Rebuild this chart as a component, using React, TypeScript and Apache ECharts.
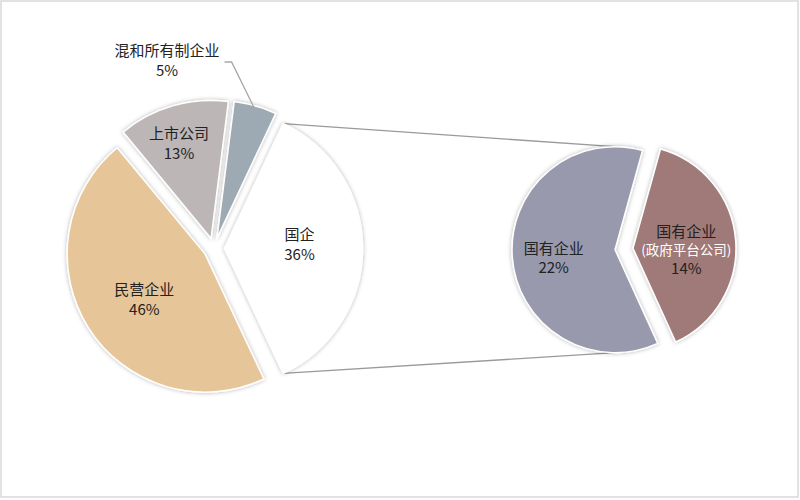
import React, { useEffect, useRef } from "react";
import * as echarts from "echarts";

const mainNames = ["国企", "民营企业", "上市公司", "混和所有制企业"];
const mainValues = [36, 46, 13, 5];
const mainColors = ["#FFFFFF", "#E6C598", "#BCB6B6", "#9DAAB3"];
const subNames = ["国有企业\n(政府平台公司)", "国有企业"];
const subValues = [14, 22];
const subColors = ["#A07A78", "#9899AD"];

const L = { cx: 214, cy: 248.5, r: 138, off: 10.5 };
const R = { cx: 624, cy: 249, r: 103, off: 9, start: 74.5 };
const FONT = "'Noto Sans CJK SC', 'Microsoft YaHei', sans-serif";

// label shifts (dx, dy) from the default inside position
const mainShifts: number[][] = [[3, -5], [0, 6], [-12, -27], [-70, -110]];
const subShifts: number[][] = [[-1, 5], [-7, 3]];

const deg = Math.PI / 180;

export default function App() {
  const ref = useRef<HTMLDivElement>(null);
  useEffect(() => {
    if (!ref.current) return;
    const chart = echarts.init(ref.current, undefined, { renderer: "svg" });
    const total = mainValues.reduce((a, b) => a + b, 0);
    const half = (mainValues[0] / total) * 180;
    // 国企 slice corners (exploded along 0°)
    const gx = L.cx + L.off;
    const topC = [gx + L.r * Math.cos(half * deg), L.cy - L.r * Math.sin(half * deg)];
    const botC = [gx + L.r * Math.cos(half * deg), L.cy + L.r * Math.sin(half * deg)];
    // right pie: 国有企业 slice centre
    const subTotal = subValues.reduce((a, b) => a + b, 0);
    const s0 = (subValues[0] / subTotal) * 360;
    const mid1 = R.start - s0 - ((subValues[1] / subTotal) * 360) / 2;
    const rx = R.cx + R.off * Math.cos(mid1 * deg);
    const ry = R.cy - R.off * Math.sin(mid1 * deg);
    const rTop = [rx, ry - R.r];
    const rBot = [rx, ry + R.r];
    // 混和 leader point on the slice's outer arc
    let acc = 0;
    for (let i = 0; i < 3; i++) acc += mainValues[i];
    const midMix = half - ((acc + mainValues[3] / 2) / total) * 360;
    const pm = [
      L.cx + (L.r + L.off - 3) * Math.cos(midMix * deg),
      L.cy - (L.r + L.off - 3) * Math.sin(midMix * deg),
    ];

    const baseLabel = {
      color: "#222",
      fontSize: 15,
      lineHeight: 20,
      fontFamily: FONT,
    };

    chart.setOption({
      animation: false,
      backgroundColor: "#fff",
      graphic: [
        {
          type: "rect",
          shape: { x: 1, y: 1, width: 797, height: 496 },
          style: { fill: "none", stroke: "#d9d9d9", lineWidth: 1.5 },
          z: 100,
        },
        {
          type: "line",
          shape: { x1: topC[0], y1: topC[1], x2: rTop[0], y2: rTop[1] },
          style: { stroke: "#9a9a9a", lineWidth: 1.3 },
          z: -1,
        },
        {
          type: "line",
          shape: { x1: botC[0], y1: botC[1], x2: rBot[0], y2: rBot[1] },
          style: { stroke: "#9a9a9a", lineWidth: 1.3 },
          z: -1,
        },
        {
          type: "polyline",
          shape: { points: [pm, [pm[0] - 23, 62], [pm[0] - 30, 62]] },
          style: { stroke: "#a6a6a6", lineWidth: 1.3, fill: "none" },
          z: 100,
        },
      ],
      series: [
        {
          type: "pie",
          center: [L.cx, L.cy],
          radius: L.r,
          startAngle: half,
          clockwise: true,
          selectedMode: "multiple",
          selectedOffset: L.off,
          avoidLabelOverlap: false,
          emphasis: { scale: false },
          itemStyle: {
            borderColor: "#fff",
            borderWidth: 1.5,
            shadowBlur: 4,
            shadowColor: "rgba(0,0,0,0.3)",
          },
          label: {
            ...baseLabel,
            position: "inside",
            formatter: (p: any) => `${p.name}\n${p.value}%`,
          },
          labelLine: { show: false },
          labelLayout: (p: any) => ({
            dx: mainShifts[p.dataIndex][0],
            dy: mainShifts[p.dataIndex][1],
          }),
          data: mainNames.map((n, i) => ({
            name: n,
            value: mainValues[i],
            selected: true,
            itemStyle: { color: mainColors[i] },
          })),
        },
        {
          type: "pie",
          center: [R.cx, R.cy],
          radius: R.r,
          startAngle: R.start,
          clockwise: true,
          selectedMode: "multiple",
          selectedOffset: R.off,
          avoidLabelOverlap: false,
          emphasis: { scale: false },
          itemStyle: {
            borderColor: "#fff",
            borderWidth: 1.5,
            shadowBlur: 4,
            shadowColor: "rgba(0,0,0,0.3)",
          },
          label: {
            ...baseLabel,
            position: "inside",
            formatter: (p: any) => {
              const parts = p.name.split("\n");
              if (parts.length > 1) return `{a|${parts[0]}}\n{w|${parts[1]}}\n{a|${p.value}%}`;
              return `{a|${p.name}}\n{a|${p.value}%}`;
            },
            rich: {
              a: { color: "#222", fontSize: 15, lineHeight: 19, fontFamily: FONT },
              w: { color: "#fff", fontSize: 13.5, lineHeight: 18, fontFamily: FONT },
            },
          },
          labelLine: { show: false },
          labelLayout: (p: any) => ({
            dx: subShifts[p.dataIndex][0],
            dy: subShifts[p.dataIndex][1],
          }),
          data: subNames.map((n, i) => ({
            name: n,
            value: subValues[i],
            selected: true,
            itemStyle: { color: subColors[i] },
          })),
        },
      ],
    });
    return () => chart.dispose();
  }, []);
  return (
    <div
      ref={ref}
      style={{ position: "absolute", left: 0, top: 0, width: 800, height: 500 }}
    />
  );
}
